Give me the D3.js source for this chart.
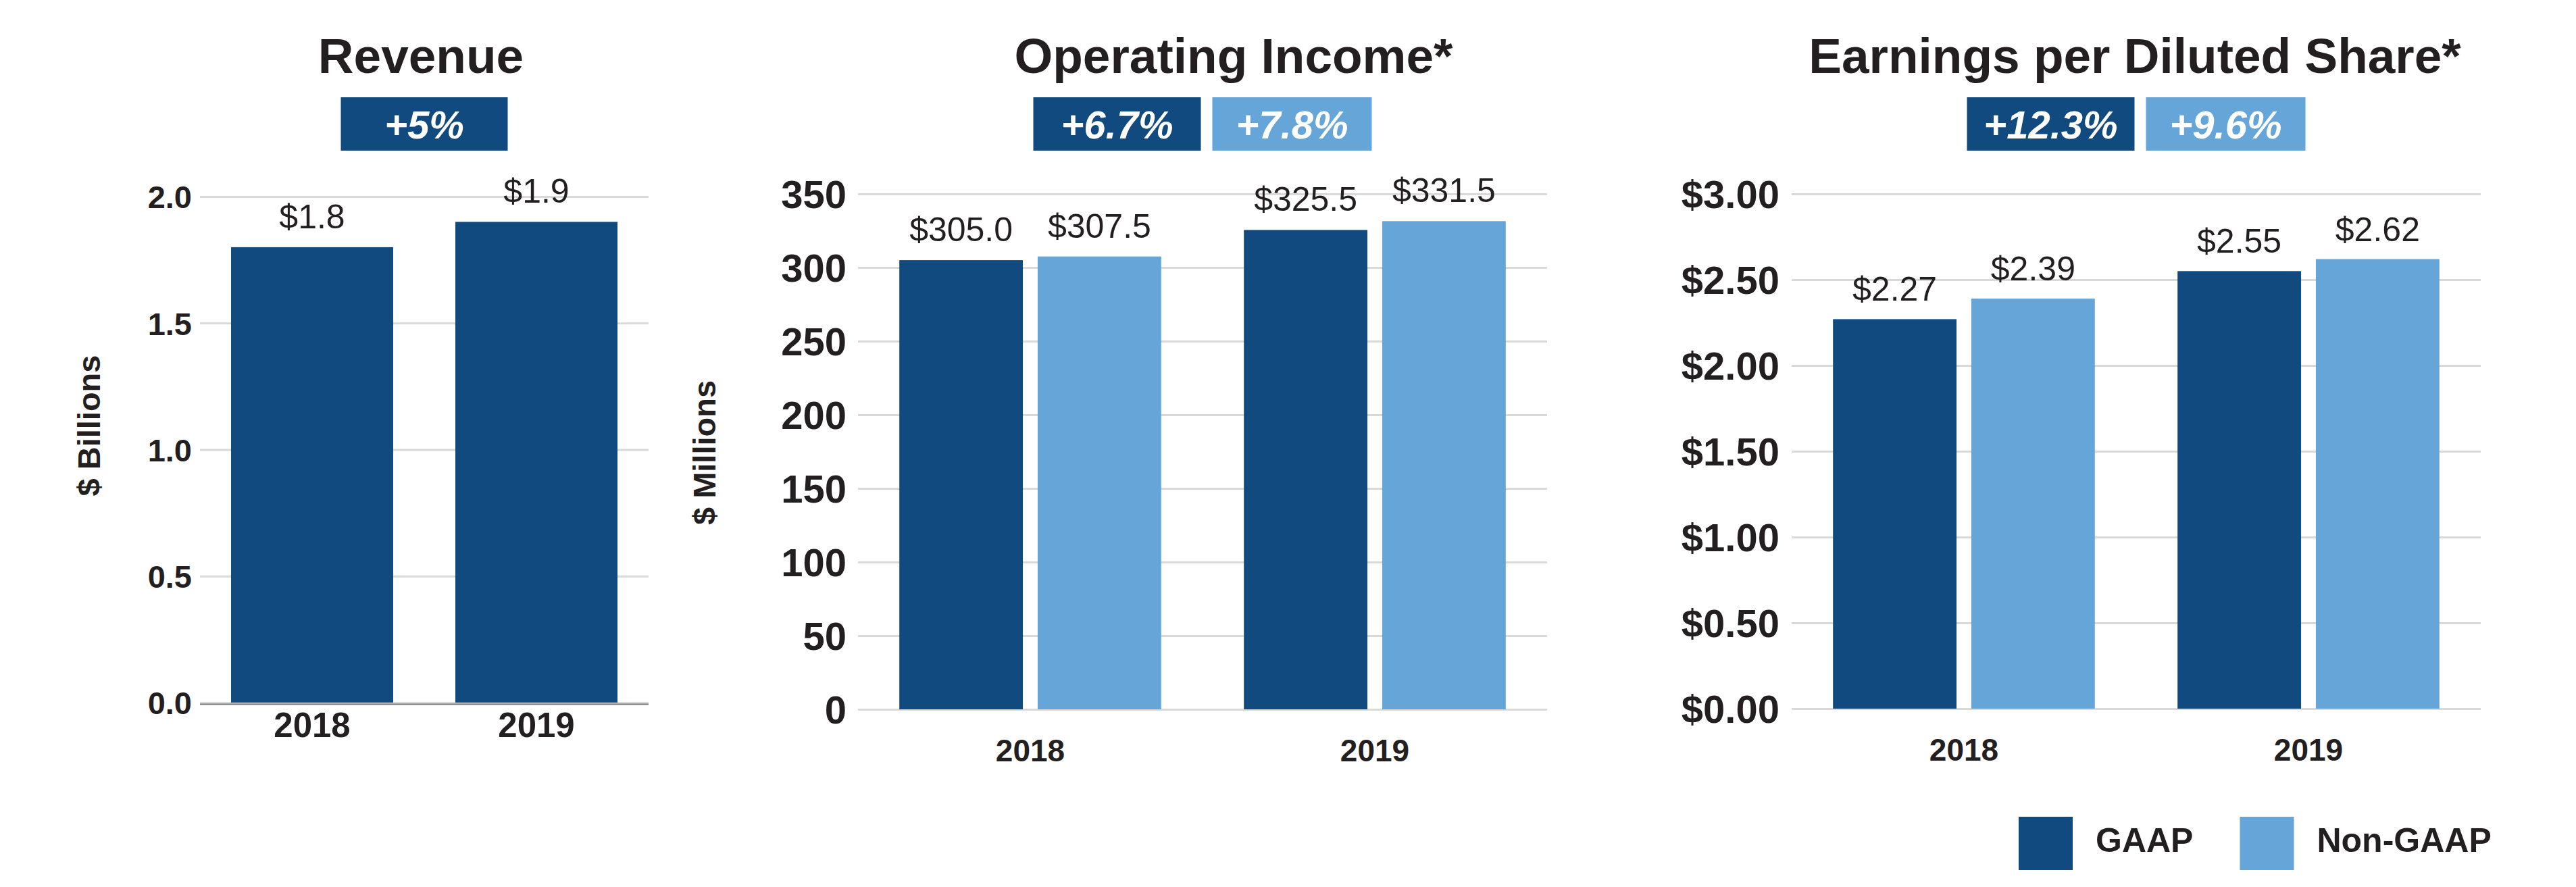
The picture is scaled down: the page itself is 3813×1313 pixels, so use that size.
<!DOCTYPE html>
<html>
<head>
<meta charset="utf-8">
<script src="https://cdn.jsdelivr.net/npm/d3@7"></script>
<style>
    body { margin: 0; background: #fff; }
    svg { display: block; font-family: "Liberation Sans", Arial, Helvetica, sans-serif; }
</style>
</head>
<body>
<div id="chart"></div>
<script>

//******************************************************************************
//**  Data
//******************************************************************************
var years = ["2018", "2019"];
var seriesNames = ["GAAP", "Non-GAAP"];

var revenue = [1.8, 1.9];
var revenueTicks = [0, 0.5, 1.0, 1.5, 2.0];
var revenueGrowth = ["+5%"];

var opIncomeGaap = [305.0, 325.5];
var opIncomeNonGaap = [307.5, 331.5];
var opIncomeTicks = [0, 50, 100, 150, 200, 250, 300, 350];
var opIncomeGrowth = ["+6.7%", "+7.8%"];

var epsGaap = [2.27, 2.55];
var epsNonGaap = [2.39, 2.62];
var epsTicks = [0, 0.5, 1.0, 1.5, 2.0, 2.5, 3.0];
var epsGrowth = ["+12.3%", "+9.6%"];


//******************************************************************************
//**  Styles
//******************************************************************************
var width = 3813, height = 1313;
var colors = ["#104a7e", "#66a5d8"];
var textColor = "#231f20";
var gridColor = "#d9d9d9";

var svg = d3.select("#chart").append("svg")
    .attr("width", width)
    .attr("height", height);


//**************************************************************************
//** drawPanel
//**************************************************************************
var drawPanel = function(cfg){

    var g = svg.append("g");

  //Scales
    var x0 = d3.scaleBand()
        .domain(years)
        .range([cfg.left, cfg.right])
        .paddingInner(cfg.groupPadding)
        .paddingOuter(cfg.groupPadding/2);

    var x1 = d3.scaleBand()
        .domain(cfg.series)
        .range([0, x0.bandwidth()])
        .paddingInner(cfg.series.length>1 ? 0.107 : 0);

    var y = d3.scaleLinear()
        .domain([0, cfg.ticks[cfg.ticks.length-1]])
        .range([cfg.bottom, cfg.top]);


  //Gridlines + tick labels
    var yAxis = g.append("g")
        .attr("transform", "translate(" + cfg.left + ",0)")
        .call(d3.axisLeft(y)
            .tickValues(cfg.ticks)
            .tickSize(-(cfg.right-cfg.left))
            .tickPadding(cfg.tickPad)
            .tickFormat(cfg.tickFormat));

    yAxis.select(".domain").remove();
    yAxis.selectAll(".tick line")
        .attr("stroke", gridColor)
        .attr("stroke-width", 3);
    yAxis.selectAll(".tick text")
        .attr("dy", "0.36em")
        .attr("fill", textColor)
        .style("font-size", cfg.tickSize + "px")
        .style("font-weight", "bold");

    if (cfg.baseline){
        g.append("line")
            .attr("x1", cfg.left)
            .attr("x2", cfg.right)
            .attr("y1", y(0) + 2.5)
            .attr("y2", y(0) + 2.5)
            .attr("stroke", "#7a7a7a")
            .attr("stroke-width", 2);
    }


  //Category labels
    var xAxis = g.append("g")
        .attr("transform", "translate(0," + y(0) + ")")
        .call(d3.axisBottom(x0).tickSize(0).tickPadding(cfg.xLabelPad));

    xAxis.select(".domain").remove();
    xAxis.selectAll(".tick text")
        .attr("fill", textColor)
        .style("font-size", cfg.xLabelSize + "px")
        .style("font-weight", "bold");


  //Bars
    var rows = [];
    years.forEach(function(year, i){
        cfg.series.forEach(function(s, j){
            rows.push({year: year, series: s, idx: j, value: cfg.values[j][i]});
        });
    });

    g.selectAll("rect.bar")
        .data(rows)
        .enter().append("rect")
        .attr("class", "bar")
        .attr("x", function(d){ return x0(d.year) + x1(d.series); })
        .attr("width", x1.bandwidth())
        .attr("y", function(d){ return y(d.value); })
        .attr("height", function(d){ return y(0) - y(d.value); })
        .attr("fill", function(d){ return colors[d.idx]; });


  //Value labels
    g.selectAll("text.value")
        .data(rows)
        .enter().append("text")
        .attr("class", "value")
        .attr("x", function(d){ return x0(d.year) + x1(d.series) + x1.bandwidth()/2; })
        .attr("y", function(d){ return y(d.value) - cfg.labelGap; })
        .attr("text-anchor", "middle")
        .attr("fill", textColor)
        .style("font-size", "50px")
        .text(function(d){ return cfg.labelFormat(d.value); });


  //Title
    g.append("text")
        .attr("x", cfg.titleX)
        .attr("y", 108)
        .attr("text-anchor", "middle")
        .attr("fill", textColor)
        .style("font-size", "73px")
        .style("font-weight", "bold")
        .text(cfg.title);


  //Growth badges
    var badgeWidths = cfg.growth.length>1 ? [248, 236] : [247];
    var badgeGap = 17;
    var total = d3.sum(badgeWidths) + badgeGap*(badgeWidths.length-1);
    var bx = (cfg.left + cfg.right)/2 - total/2;

    cfg.growth.forEach(function(label, i){
        var w = badgeWidths[i];
        g.append("rect")
            .attr("x", bx)
            .attr("y", 144)
            .attr("width", w)
            .attr("height", 79)
            .attr("fill", colors[i]);
        g.append("text")
            .attr("x", bx + w/2)
            .attr("y", 205)
            .attr("text-anchor", "middle")
            .attr("fill", "#fff")
            .style("font-size", "58px")
            .style("font-weight", "bold")
            .style("font-style", "italic")
            .text(label);
        bx += w + badgeGap;
    });


  //Y axis title
    if (cfg.yLabel){
        g.append("text")
            .attr("transform", "translate(" + cfg.yLabelX + "," + cfg.yLabelY + ") rotate(-90)")
            .attr("text-anchor", "middle")
            .attr("fill", textColor)
            .style("font-size", "47px")
            .style("font-weight", "bold")
            .text(cfg.yLabel);
    }
};


//**************************************************************************
//** Panels
//**************************************************************************
drawPanel({
    title: "Revenue",
    titleX: 623,
    growth: revenueGrowth,
    series: ["GAAP"],
    values: [revenue],
    ticks: revenueTicks,
    tickFormat: d3.format(".1f"),
    labelFormat: function(v){ return "$" + d3.format(".1f")(v); },
    left: 296, right: 960, top: 291, bottom: 1040,
    groupPadding: 0.277,
    tickSize: 47, tickPad: 12,
    xLabelSize: 51, xLabelPad: 15,
    labelGap: 28,
    baseline: true,
    yLabel: "$ Billions", yLabelX: 148, yLabelY: 630
});

drawPanel({
    title: "Operating Income*",
    titleX: 1826,
    growth: opIncomeGrowth,
    series: seriesNames,
    values: [opIncomeGaap, opIncomeNonGaap],
    ticks: opIncomeTicks,
    tickFormat: d3.format("d"),
    labelFormat: function(v){ return "$" + d3.format(".1f")(v); },
    left: 1270, right: 2290, top: 287, bottom: 1050,
    groupPadding: 0.24,
    tickSize: 58, tickPad: 17,
    xLabelSize: 46, xLabelPad: 44,
    labelGap: 28,
    yLabel: "$ Millions", yLabelX: 1059, yLabelY: 670
});

drawPanel({
    title: "Earnings per Diluted Share*",
    titleX: 3160,
    growth: epsGrowth,
    series: seriesNames,
    values: [epsGaap, epsNonGaap],
    ticks: epsTicks,
    tickFormat: function(v){ return "$" + d3.format(".2f")(v); },
    labelFormat: function(v){ return "$" + d3.format(".2f")(v); },
    left: 2652, right: 3672, top: 287, bottom: 1049,
    groupPadding: 0.24,
    tickSize: 58, tickPad: 18,
    xLabelSize: 46, xLabelPad: 44,
    labelGap: 27
});


//**************************************************************************
//** Legend
//**************************************************************************
var legend = svg.append("g").attr("transform", "translate(2988,1209)");
var lx = 0;
seriesNames.forEach(function(name, i){
    legend.append("rect")
        .attr("x", lx)
        .attr("y", 0)
        .attr("width", 80)
        .attr("height", 79)
        .attr("fill", colors[i]);
    var t = legend.append("text")
        .attr("x", lx + 114)
        .attr("y", 52)
        .attr("fill", textColor)
        .style("font-size", "50px")
        .style("font-weight", "bold")
        .text(name);
    lx += 114 + t.node().getComputedTextLength() + 69;
});

</script>
</body>
</html>
